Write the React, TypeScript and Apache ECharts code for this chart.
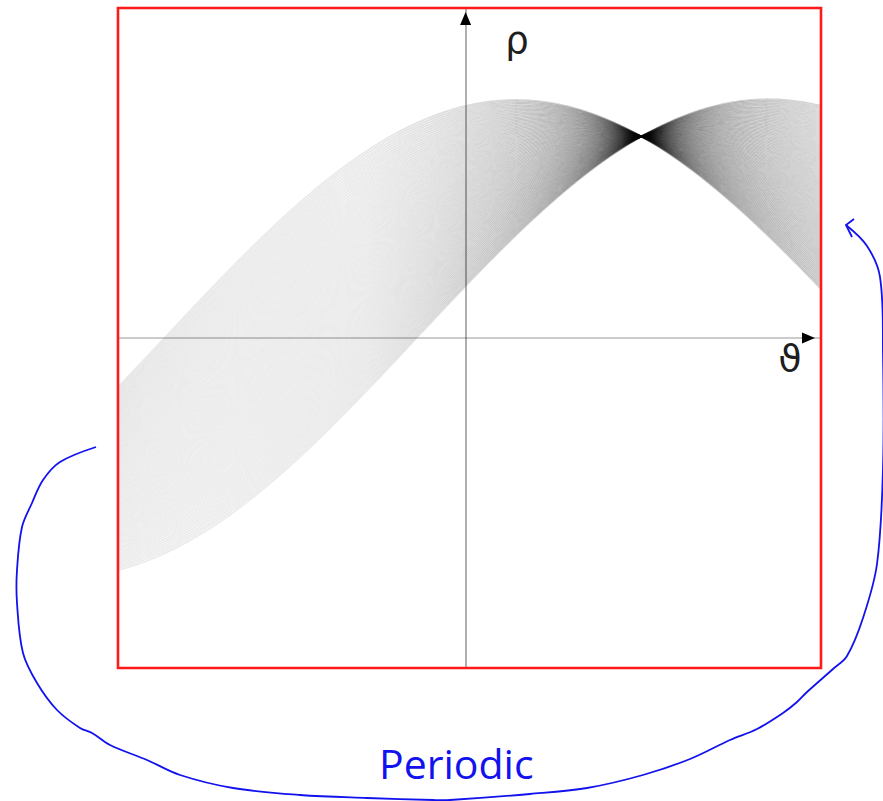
import React, { useEffect, useRef } from "react";
import * as echarts from "echarts";

// Edge pixels (x, y) of a straight image segment; every second pixel is voted.
const EDGE_PIXELS: [number, number][] = [
  [52, 233], [54, 231], [56, 229], [58, 227], [60, 225], [62, 223], [64, 221], [66, 219],
  [68, 217], [70, 215], [72, 213], [74, 211], [76, 209], [78, 207], [80, 205], [82, 203],
  [84, 201], [86, 199], [88, 197], [90, 195], [92, 193], [94, 191], [96, 189], [98, 187],
  [100, 185], [102, 183], [104, 181], [106, 179], [108, 177], [110, 175], [112, 173], [114, 171],
  [116, 169], [118, 167], [120, 165], [122, 163], [124, 161], [126, 159], [128, 157], [130, 155],
  [132, 153], [134, 151], [136, 149], [138, 147], [140, 145], [142, 143], [144, 141], [146, 139],
  [148, 137], [150, 135], [152, 133], [154, 131], [156, 129], [158, 127], [160, 125], [162, 123],
  [164, 121], [166, 119], [168, 117], [170, 115], [172, 113], [174, 111], [176, 109], [178, 107],
  [180, 105], [182, 103], [184, 101], [186, 99], [188, 97], [190, 95], [192, 93], [194, 91],
  [196, 89], [198, 87], [200, 85], [202, 83], [204, 81], [206, 79], [208, 77], [210, 75],
  [212, 73], [214, 71], [216, 69], [218, 67], [220, 65], [222, 63], [224, 61], [226, 59],
  [228, 57], [230, 55], [232, 53],
];

// Parameter space extents: angle ϑ in degrees, distance ρ in pixels
const THETA_RANGE: [number, number] = [-89, 91];
const THETA_STEP = 0.5;
const RHO_RANGE: [number, number] = [-330, 330];

const AXIS_LABELS = { rho: "ρ", theta: "ϑ" };
const NOTE = "Periodic";

function houghCurve(px: number, py: number): [number, number][] {
  const pts: [number, number][] = [];
  const n = Math.round((THETA_RANGE[1] - THETA_RANGE[0]) / THETA_STEP);
  for (let i = 0; i <= n; i++) {
    const t = THETA_RANGE[0] + i * THETA_STEP;
    const r = (t * Math.PI) / 180;
    pts.push([t, px * Math.cos(r) + py * Math.sin(r)]);
  }
  return pts;
}

export default function App() {
  const ref = useRef<HTMLDivElement>(null);

  useEffect(() => {
    if (!ref.current) return;
    const chart = echarts.init(ref.current, undefined, { renderer: "svg" });

    // Vote ink: steep left-hand strokes are fainter, shallow right-hand ones denser
    const ink = () =>
      new echarts.graphic.LinearGradient(0, 0, 1, 0, [
        { offset: 0, color: "rgba(0,0,0,0.075)" },
        { offset: 0.35, color: "rgba(0,0,0,0.085)" },
        { offset: 0.5, color: "rgba(0,0,0,0.14)" },
        { offset: 0.75, color: "rgba(0,0,0,0.2)" },
        { offset: 1, color: "rgba(0,0,0,0.16)" },
      ]);

    const series = EDGE_PIXELS.map(([px, py]) => ({
      type: "line" as const,
      data: houghCurve(px, py),
      symbol: "none",
      showSymbol: false,
      silent: true,
      clip: true,
      z: 2,
      lineStyle: { color: ink(), width: 1.8 },
      emphasis: { disabled: true },
    }));

    const blue = "#1212ee";

    chart.setOption({
      animation: false,
      backgroundColor: "#fff",
      grid: { left: 118, top: 8, right: 62, bottom: 133, containLabel: false },
      xAxis: {
        type: "value",
        min: THETA_RANGE[0],
        max: THETA_RANGE[1],
        axisLine: {
          show: true,
          onZero: true,
          symbol: ["none", "triangle"],
          symbolSize: [11, 13],
          symbolOffset: [0, -12.5],
          lineStyle: { color: "#000", opacity: 0.27, width: 1.5 },
        },
        axisTick: { show: false },
        axisLabel: { show: false },
        splitLine: { show: false },
      },
      yAxis: {
        type: "value",
        min: RHO_RANGE[0],
        max: RHO_RANGE[1],
        axisLine: {
          show: true,
          onZero: true,
          symbol: ["none", "triangle"],
          symbolSize: [11, 13],
          symbolOffset: [0, -10.5],
          lineStyle: { color: "#000", opacity: 0.42, width: 1.5 },
        },
        axisTick: { show: false },
        axisLabel: { show: false },
        splitLine: { show: false },
      },
      series,
      graphic: [
        {
          type: "rect",
          z: 100,
          silent: true,
          shape: { x: 118, y: 8, width: 703, height: 660 },
          style: { fill: "none", stroke: "#ff1a1a", lineWidth: 2.6 },
        },
        {
          type: "text",
          z: 100,
          x: 517,
          y: 40,
          style: {
            text: AXIS_LABELS.rho,
            font: '37px "DejaVu Sans"',
            fill: "#1e1e1e",
            align: "center",
            verticalAlign: "middle",
          },
        },
        {
          type: "text",
          z: 100,
          x: 790,
          y: 358,
          style: {
            text: AXIS_LABELS.theta,
            font: '38px "DejaVu Sans"',
            fill: "#1e1e1e",
            align: "center",
            verticalAlign: "middle",
          },
        },
        {
          type: "polyline",
          z: 100,
          silent: true,
          shape: {
            smooth: 0.35,
            points: [
              [96, 447], [60, 462], [43, 480], [32, 503], [22, 527], [17, 570], [17, 603],
              [23, 653], [37, 683], [57, 710], [80, 728], [92, 733], [110, 745], [147, 760],
              [180, 775], [233, 788], [300, 795], [367, 798], [433, 800], [450, 800],
              [530, 794], [587, 788], [643, 775], [690, 759], [730, 740], [757, 729],
              [783, 713], [797, 702], [807, 692], [833, 669], [847, 656], [863, 618],
              [877, 564], [883, 468], [883, 353], [880, 277], [867, 246], [846, 225],
            ],
          },
          style: { fill: "none", stroke: blue, lineWidth: 1.8 },
        },
        {
          type: "polyline",
          z: 100,
          silent: true,
          shape: { points: [[854, 219], [846, 225], [852, 237]] },
          style: { fill: "none", stroke: blue, lineWidth: 1.8 },
        },
        {
          type: "text",
          z: 100,
          x: 379,
          y: 763,
          style: {
            text: NOTE,
            font: '41px "Open Sans"',
            fill: blue,
            align: "left",
            verticalAlign: "middle",
          },
        },
      ],
    });

    return () => chart.dispose();
  }, []);

  return (
    <div
      ref={ref}
      style={{ position: "absolute", left: 0, top: 0, width: 883, height: 801 }}
    />
  );
}
